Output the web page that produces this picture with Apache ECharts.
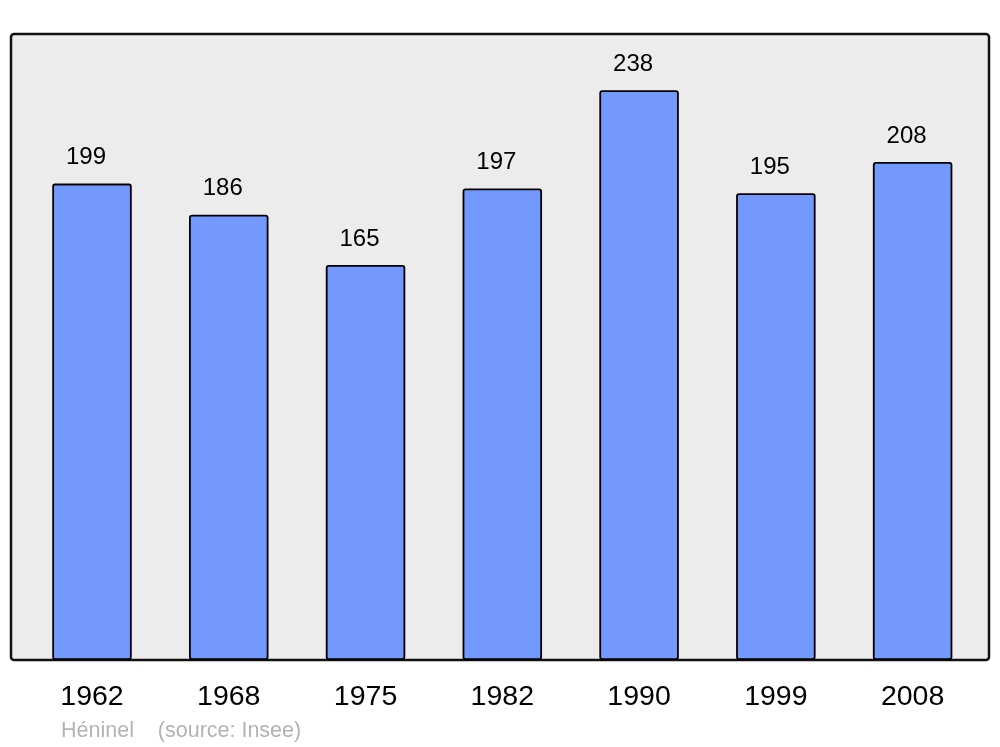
<!DOCTYPE html>
<html>
<head>
<meta charset="utf-8">
<script src="https://cdn.jsdelivr.net/npm/echarts@6/dist/echarts.min.js"></script>
<style>
html,body{margin:0;padding:0;background:#fff;}
#chart{width:1000px;height:747px;}
</style>
</head>
<body>
<div id="chart"></div>
<script>
const categories = ['1962', '1968', '1975', '1982', '1990', '1999', '2008'];
const populationValues = [199, 186, 165, 197, 238, 195, 208];
const sourceText = 'Héninel    (source: Insee)';

const chart = echarts.init(document.getElementById('chart'));
chart.setOption({
  animation: false,
  backgroundColor: '#ffffff',
  textStyle: { fontFamily: '"Liberation Sans", Arial, sans-serif' },
  graphic: [
    {
      type: 'rect',
      z: 0,
      shape: { x: 11, y: 34, width: 978, height: 626, r: 3 },
      style: { fill: '#ececec', stroke: '#111111', lineWidth: 2.5 }
    },
    {
      type: 'text',
      z: 5,
      left: 61,
      top: 720,
      style: {
        text: sourceText,
        fill: '#b3b3b3',
        fontSize: 21.5,
        fontFamily: '"Liberation Sans", Arial, sans-serif'
      }
    }
  ],
  grid: { left: 23.6, right: 19, top: 34, bottom: 87, containLabel: false },
  xAxis: {
    type: 'category',
    data: categories,
    axisLine: { show: false },
    axisTick: { show: false },
    axisLabel: {
      color: '#000',
      fontSize: 28.5,
      margin: 23,
      fontFamily: '"Liberation Sans", Arial, sans-serif'
    }
  },
  yAxis: {
    type: 'value',
    min: 0,
    max: 261.5,
    show: false,
    splitLine: { show: false }
  },
  series: [{
    type: 'bar',
    data: populationValues,
    barWidth: 79.5,
    z: 2,
    itemStyle: {
      color: '#7399ff',
      borderColor: '#000',
      borderWidth: 1.8,
      borderRadius: 2
    },
    label: {
      show: true,
      position: 'top',
      distance: 14,
      offset: [-6, 0],
      color: '#000',
      fontSize: 24,
      fontFamily: '"Liberation Sans", Arial, sans-serif'
    }
  }]
});
</script>
</body>
</html>
